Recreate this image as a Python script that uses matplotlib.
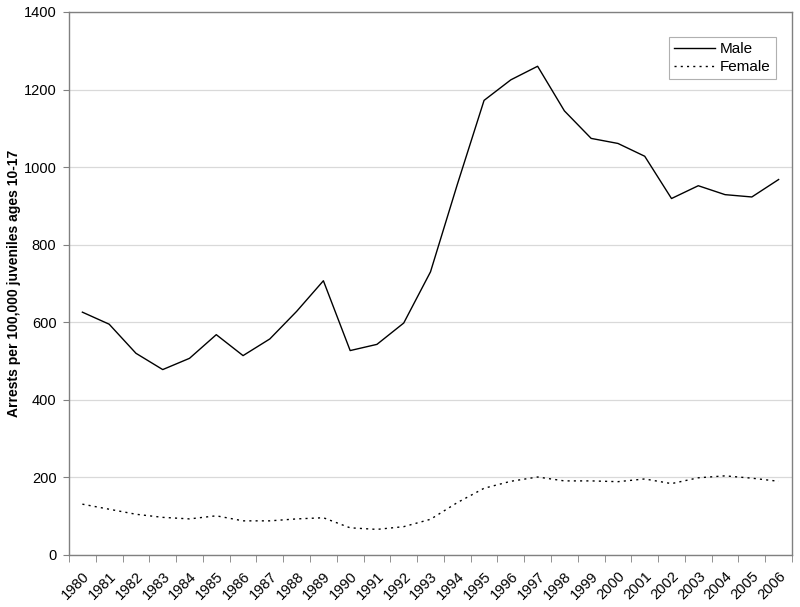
import numpy as np
import matplotlib.pyplot as plt

plt.rcParams['font.family'] = ['Liberation Sans', 'DejaVu Sans']

years = [str(y) for y in range(1980, 2007)]
male = [626, 595, 520, 478, 507, 568, 514, 557, 628, 707, 527, 543, 598, 730,
        955, 1172, 1225, 1260, 1145, 1074, 1061, 1028, 919, 952, 929, 923, 968]
female = [131, 118, 105, 97, 93, 101, 88, 88, 93, 96, 70, 66, 73, 92,
          135, 172, 190, 201, 191, 191, 189, 196, 184, 199, 204, 198, 190]

fig = plt.figure(figsize=(8, 6.07), dpi=100)
ax = fig.add_axes([0.08625, 0.0857, 0.90375, 0.8946])

x = np.arange(len(years))
ax.plot(x, male, color='black', lw=1.0, label='Male')
ax.plot(x, female, color='black', lw=1.0, linestyle=(0, (1.5, 3)), label='Female')

ax.set_xlim(-0.5, len(years) - 0.5)
ax.set_ylim(0, 1400)
ax.set_yticks(range(0, 1401, 200))
ax.yaxis.grid(True, color='#d9d9d9', lw=0.9)
ax.set_axisbelow(True)
ax.tick_params(axis='y', length=4, color='#808080', labelsize=10.5, pad=5)

ax.set_xticks(x)
ax.set_xticklabels(years, rotation=45, ha='right', rotation_mode='anchor', fontsize=10.5)
ax.set_xticks(np.arange(-0.5, len(years), 1), minor=True)
ax.tick_params(axis='x', which='major', length=0, pad=10)
ax.tick_params(axis='x', which='minor', length=5, color='#808080', direction='out')

for s in ax.spines.values():
    s.set_color('#808080')
    s.set_linewidth(1.0)

ax.set_ylabel('Arrests per 100,000 juveniles ages 10-17', fontsize=10, fontweight='bold')
ax.yaxis.set_label_coords(-0.067, 0.5)

leg = ax.legend(loc='upper right', bbox_to_anchor=(0.978, 0.954), borderaxespad=0,
                fontsize=11, fancybox=False, framealpha=1, edgecolor='#b0b0b0',
                handlelength=2.7, borderpad=0.35, labelspacing=0.25, handletextpad=0.3)
leg.get_frame().set_linewidth(0.8)

fig.savefig('out.png')
